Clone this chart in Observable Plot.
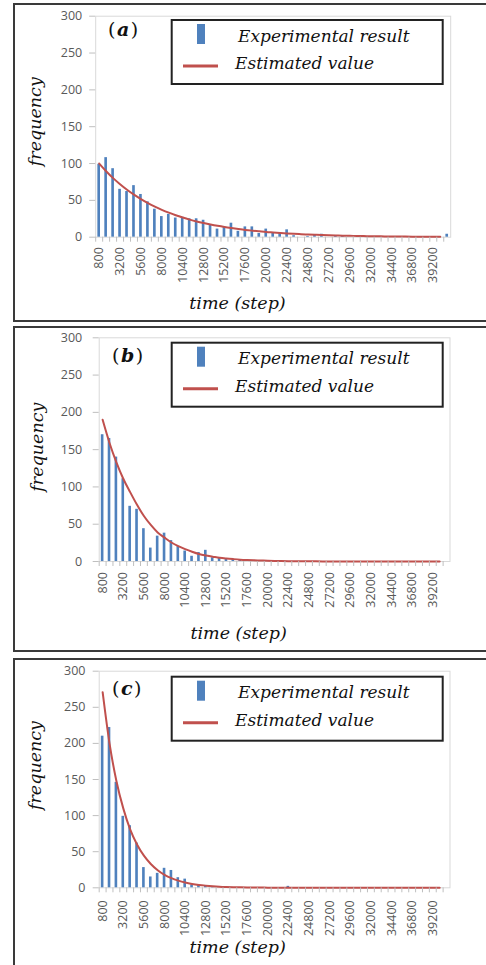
<!DOCTYPE html>
<html>
<head>
<meta charset="utf-8">
<script src="https://cdn.jsdelivr.net/npm/d3@7"></script>
<script src="https://cdn.jsdelivr.net/npm/@observablehq/plot@0.6"></script>
<style>
  html, body { margin: 0; padding: 0; background: #fff; overflow: hidden; }
  #page { position: relative; width: 486px; height: 965px; overflow: hidden; }
  .box { position: absolute; left: 13px; width: 490px; border: 2px solid #3a3a3a; box-sizing: border-box; }
  .chart { position: absolute; left: 0; }
  .overlay { position: absolute; left: 0; top: 0; pointer-events: none; }
</style>
</head>
<body>
<div id="page"></div>
<script>
// Time bins (steps), one bar per bin
const categories = [800, 1600, 2400, 3200, 4000, 4800, 5600, 6400, 7200, 8000,
  8800, 9600, 10400, 11200, 12000, 12800, 13600, 14400, 15200, 16000,
  16800, 17600, 18400, 19200, 20000, 20800, 21600, 22400, 23200, 24000,
  24800, 25600, 26400, 27200, 28000, 28800, 29600, 30400, 31200, 32000,
  32800, 33600, 34400, 35200, 36000, 36800, 37600, 38400, 39200, 40000, 40800];

// Labelled bins on the time axis
const tickLabels = [800, 3200, 5600, 8000, 10400, 12800, 15200, 17600, 20000,
  22400, 24800, 27200, 29600, 32000, 34400, 36800, 39200];

const yTicks = [0, 50, 100, 150, 200, 250, 300];

// (a) experimental frequencies and estimated curve
const experimentalA = [99, 108, 93, 65, 62, 70, 58, 48, 38, 28,
  31, 26, 27, 25, 25, 23, 17, 11, 14, 19,
  8, 14, 14, 5, 11, 6, 5, 10, 2, 0,
  1, 3, 4, 0, 2, 1, 0, 0, 0, 0,
  0, 0, 0, 0, 0, 0, 0, 0, 0, 0, 4];
const estimatedA = [100, 89.6, 80.2, 71.9, 64.4, 57.7, 51.7, 46.3, 41.5, 37.2,
  33.3, 29.8, 26.7, 23.9, 21.4, 19.2, 17.2, 15.4, 13.8, 12.4,
  11.1, 9.9, 8.9, 8.0, 7.1, 6.4, 5.7, 5.1, 4.6, 4.1,
  3.7, 3.3, 3.0, 2.7, 2.4, 2.1, 1.9, 1.7, 1.5, 1.4,
  1.2, 1.1, 1.0, 0.9, 0.8, 0.7, 0.6, 0.6, 0.5, 0.5];

// (b)
const experimentalB = [170, 165, 140, 111, 74, 70, 44, 18, 34, 38,
  28, 20, 14, 7, 12, 15, 5, 4, 3, 3,
  2, 1, 1, 1, 0, 0, 0, 0, 0, 0,
  0, 0, 0, 0, 0, 0, 0, 0, 0, 0,
  0, 0, 0, 0, 0, 0, 0, 0, 0, 0, 0];
const estimatedB = [190, 159, 133, 111, 93, 76, 61, 49, 39, 32,
  25.5, 20.5, 16.5, 13, 10, 8, 6.5, 5, 4, 3.2,
  2.5, 2, 1.6, 1.3, 1, 0.8, 0.6, 0.5, 0.4, 0.3,
  0.25, 0.2, 0.15, 0.1, 0.1, 0.1, 0, 0, 0, 0,
  0, 0, 0, 0, 0, 0, 0, 0, 0, 0];

// (c)
const experimentalC = [210, 222, 146, 99, 86, 62, 28, 15, 20, 27,
  24, 14, 12, 4, 4, 2, 1, 0, 0, 0,
  0, 0, 0, 0, 0, 0, 0, 2, 0, 0,
  0, 0, 0, 0, 0, 0, 0, 0, 0, 0,
  0, 0, 0, 0, 0, 0, 0, 0, 0, 0, 0];
const estimatedC = [271, 200, 148, 110, 81, 60, 44.5, 33, 24.4, 18,
  13.3, 9.9, 7.3, 5.4, 4.0, 3.0, 2.2, 1.6, 1.2, 0.9,
  0.7, 0.5, 0.4, 0.3, 0.2, 0.1, 0.1, 0, 0, 0,
  0, 0, 0, 0, 0, 0, 0, 0, 0, 0,
  0, 0, 0, 0, 0, 0, 0, 0, 0, 0];

const BAR = "#4f81bd";
const FIT = "#c0504d";
const SERIF = "'DejaVu Serif', serif";
const titleFont = {fontFamily: SERIF, fontStyle: "italic", fontSize: 17.5, fill: "#111",
  textAnchor: "middle", lineAnchor: "middle"};

const panels = [
  {id: "a", experimental: experimentalA, estimated: estimatedA,
   box: [3, 319], top: 0, height: 320, mt: 15.7, mb: 83.3, ml: 95.2, mr: 35.8,
   yPad: 7.5, xPad: 10, xt: [-35.7, 66], yt: [-60.2, -5],
   legendTop: 19, labelX: 108, labelBase: 36.3},
  {id: "b", experimental: experimentalB, estimated: estimatedB,
   box: [326, 326], top: 320, height: 330, mt: 17.3, mb: 89, ml: 98.7, mr: 36.5,
   yPad: 11, xPad: 10.5, xt: [-36, 71.5], yt: [-62, -2.5],
   legendTop: 341.7, labelX: 112, labelBase: 361.8},
  {id: "c", experimental: experimentalC, estimated: estimatedC,
   box: [658, 320], top: 650, height: 315, mt: 20.7, mb: 77.7, ml: 98.7, mr: 36.5,
   yPad: 7.7, xPad: 12.5, xt: [-37, 59.5], yt: [-63.7, -14],
   legendTop: 675.7, labelX: 112, labelBase: 695.2}
];

const page = document.getElementById("page");
const W = 486;

for (const p of panels) {
  const box = document.createElement("div");
  box.className = "box";
  box.style.top = p.box[0] + "px";
  box.style.height = p.box[1] + "px";
  page.appendChild(box);

  const bars = categories.map((t, i) => ({time: t, frequency: p.experimental[i]}));
  const fit = p.estimated.map((v, i) => ({time: categories[i], frequency: v}));
  const step = (W - p.ml - p.mr) / categories.length;

  const chart = Plot.plot({
    width: W,
    height: p.height,
    marginTop: p.mt, marginRight: p.mr, marginBottom: p.mb, marginLeft: p.ml,
    style: {background: "transparent", fontFamily: "'Open Sans', sans-serif", fontSize: "12.5px", overflow: "visible"},
    x: {type: "band", domain: categories, paddingInner: 0.62, paddingOuter: 0.31},
    y: {domain: [0, 300]},
    marks: [
      Plot.frame({stroke: "#d9d9d9"}),
      Plot.barY(bars, {x: "time", y: "frequency", fill: BAR}),
      Plot.lineY(fit, {x: "time", y: "frequency", stroke: FIT, strokeWidth: 2, curve: "monotone-x"}),
      Plot.axisY({ticks: yTicks, tickSize: 6, tickPadding: p.yPad, stroke: "#bfbfbf", fill: "#595959", label: null}),
      Plot.axisX({ticks: categories, tickSize: 5, tickFormat: () => "", stroke: "#bfbfbf", dx: -step / 2, label: null}),
      Plot.axisX({ticks: tickLabels, tickSize: 0, tickPadding: p.xPad, tickRotate: -90, tickFormat: d => String(d), fill: "#595959", label: null}),
      Plot.text(["time (step)"], {text: d => d, frameAnchor: "bottom", dx: p.xt[0], dy: p.xt[1], ...titleFont}),
      Plot.text(["frequency"], {text: d => d, frameAnchor: "left", rotate: -90, dx: p.yt[0], dy: p.yt[1], ...titleFont})
    ]
  });
  chart.classList.add("chart");
  chart.style.top = p.top + "px";
  page.appendChild(chart);
}

// Legends and panel letters
const overlay = d3.select(page).append("svg")
  .attr("class", "overlay")
  .attr("width", W)
  .attr("height", 965);

for (const p of panels) {
  const g = overlay.append("g").attr("transform", `translate(170.7,${p.legendTop})`);
  g.append("rect").attr("x", 1).attr("y", 1).attr("width", 271).attr("height", 64)
    .attr("fill", "#fff").attr("stroke", "#222").attr("stroke-width", 2);
  g.append("rect").attr("x", 26.3).attr("y", 5).attr("width", 8).attr("height", 20).attr("fill", BAR);
  g.append("text").attr("x", 67.3).attr("y", 22.7)
    .attr("font-family", SERIF).attr("font-style", "italic").attr("font-size", 17).attr("fill", "#111")
    .text("Experimental result");
  g.append("line").attr("x1", 12.3).attr("x2", 47.3).attr("y1", 47).attr("y2", 47)
    .attr("stroke", FIT).attr("stroke-width", 3);
  g.append("text").attr("x", 64.3).attr("y", 50.3)
    .attr("font-family", SERIF).attr("font-style", "italic").attr("font-size", 17).attr("fill", "#111")
    .text("Estimated value");

  const lab = overlay.append("text").attr("x", p.labelX).attr("y", p.labelBase)
    .attr("font-family", SERIF).attr("font-size", 19).attr("letter-spacing", 1.5).attr("fill", "#111");
  lab.append("tspan").text("(");
  lab.append("tspan").attr("font-weight", "bold").attr("font-style", "italic").text(p.id);
  lab.append("tspan").text(")");
}
</script>
</body>
</html>
